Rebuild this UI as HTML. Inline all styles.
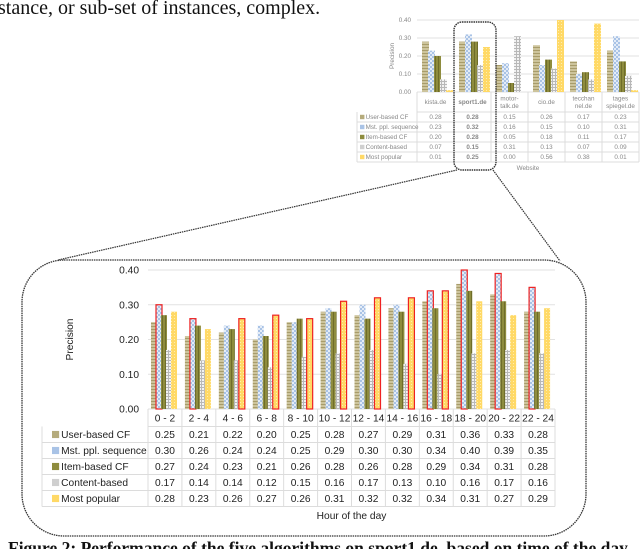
<!DOCTYPE html>
<html><head><meta charset="utf-8"><style>
body{margin:0;background:#fff;}
svg{display:block;}
text{font-family:"Liberation Sans",sans-serif;}
.serif{font-family:"Liberation Serif",serif;}
</style></head><body>
<svg id="s" width="640" height="549" viewBox="0 0 640 549">
<defs>
<pattern id="pUser" width="4" height="3" patternUnits="userSpaceOnUse"><rect width="4" height="3" fill="#cdc49c"/><rect y="2" width="4" height="1" fill="#a89c6a"/></pattern>
<pattern id="pMst" width="4" height="4" patternUnits="userSpaceOnUse"><rect width="4" height="4" fill="#e4ecf7"/><rect width="2" height="2" fill="#a9c3e6"/><rect x="2" y="2" width="2" height="2" fill="#a9c3e6"/></pattern>
<pattern id="pItem" width="3" height="3" patternUnits="userSpaceOnUse"><rect width="3" height="3" fill="#8e8c3e"/><rect width="1" height="3" fill="#6f6d2a"/></pattern>
<pattern id="pCont" width="3" height="3" patternUnits="userSpaceOnUse"><rect width="3" height="3" fill="#f2f2f2"/><rect width="1" height="3" fill="#b8b8b8"/><rect width="3" height="1" fill="#b8b8b8"/></pattern>
<pattern id="pPop" width="3" height="3" patternUnits="userSpaceOnUse"><rect width="3" height="3" fill="#ffd966"/><rect width="1" height="1" fill="#ffeeb0"/></pattern>
</defs>
<text class="serif" x="-2" y="14" font-size="20" fill="#111">stance, or sub-set of instances, complex.</text>
<g id="small"></g>
<g id="main"></g>
<rect x="454" y="22" width="42" height="148" rx="8" fill="none" stroke="#333" stroke-width="1.4" stroke-dasharray="1.5 0.8"/>
<line x1="457" y1="170" x2="58" y2="260" stroke="#333" stroke-width="1.2" stroke-dasharray="1.5 0.8"/>
<line x1="493" y1="170" x2="560" y2="261" stroke="#333" stroke-width="1.2" stroke-dasharray="1.5 0.8"/>
<rect x="22" y="260" width="564" height="276" rx="42" fill="none" stroke="#333" stroke-width="1.3" stroke-dasharray="1.5 0.8"/>
<text class="serif" x="8" y="554" font-size="17.5" font-weight="bold" fill="#111">Figure 2: Performance of the five algorithms on sport1.de, based on time of the day</text>
</svg>
<script>
const seriesNames=["User-based CF","Mst. ppl. sequence","Item-based CF","Content-based","Most popular"];
const hours=["0 - 2","2 - 4","4 - 6","6 - 8","8 - 10","10 - 12","12 - 14","14 - 16","16 - 18","18 - 20","20 - 22","22 - 24"];
const hUser=[0.25,0.21,0.22,0.20,0.25,0.28,0.27,0.29,0.31,0.36,0.33,0.28];
const hMst=[0.30,0.26,0.24,0.24,0.25,0.29,0.30,0.30,0.34,0.40,0.39,0.35];
const hItem=[0.27,0.24,0.23,0.21,0.26,0.28,0.26,0.28,0.29,0.34,0.31,0.28];
const hCont=[0.17,0.14,0.14,0.12,0.15,0.16,0.17,0.13,0.10,0.16,0.17,0.16];
const hPop=[0.28,0.23,0.26,0.27,0.26,0.31,0.32,0.32,0.34,0.31,0.27,0.29];
const yTicks=["0.00","0.10","0.20","0.30","0.40"];
const sites=["kista.de","sport1.de","motor-|talk.de","cio.de","tecchan|nel.de","tages|spiegel.de"];
const sUser=[0.28,0.28,0.15,0.26,0.17,0.23];
const sMst=[0.23,0.32,0.16,0.15,0.10,0.31];
const sItem=[0.20,0.28,0.05,0.18,0.11,0.17];
const sCont=[0.07,0.15,0.31,0.13,0.07,0.09];
const sPop=[0.01,0.25,0.00,0.56,0.38,0.01];

const NS="http://www.w3.org/2000/svg";
const fills=["url(#pUser)","url(#pMst)","url(#pItem)","url(#pCont)","url(#pPop)"];
const icon=["#b5ab7c","#a9c3e6","#8e8c3e","#cfcfcf","#ffd966"];
function mk(p,t,a){const e=document.createElementNS(NS,t);for(const k in a)e.setAttribute(k,a[k]);p.appendChild(e);return e;}
function txt(p,x,y,s,a){const e=mk(p,"text",Object.assign({x:x,y:y},a));e.textContent=s;return e;}

function chart(g,o){
  const hs=o.series, n=o.cats.length;
  const cw=(o.x1-o.x0)/n;
  const y=v=>o.yb-Math.min(v,0.4)/0.4*o.yh;
  const xc=i=>o.x0+i*cw;
  yTicks.forEach(t=>{
    const l=mk(g,"line",{x1:o.x0,x2:o.x1,y1:y(+t),y2:y(+t),stroke:"#e2e2e2","stroke-width":1});
    
    
    const tt=txt(g,o.x0-o.tickGap,y(+t)+o.fs*0.35,t,{"font-size":o.fs,fill:o.tc,"text-anchor":"end"});
    
    
  });
  const yt=txt(g,0,0,"Precision",{"font-size":o.fs,fill:o.tc,"text-anchor":"middle",transform:`translate(${o.ytx},${o.yb-o.yh/2}) rotate(-90)`});
  
  
  for(let i=0;i<n;i++){
    let mx=-1;
    if(o.red){hs.forEach(s=>{if(s[i]>mx)mx=s[i];});}
    hs.forEach((s,k)=>{
      const bx=xc(i)+o.boff+k*o.step;
      const r=mk(g,"rect",{x:bx,y:y(s[i]),width:o.bw,height:o.yb-y(s[i]),fill:fills[k]});
      if(o.red&&(k===1||k===4)&&s[i]===mx){r.setAttribute("stroke","#ee2222");r.setAttribute("stroke-width","1.2");}
      
      
    });
  }
  const tb=o.yb, rh=o.rh, hh=o.hh;
  const bc="#dcdcdc";
  for(let r=0;r<=5;r++){
    const l=mk(g,"line",{x1:r==0?o.x0:o.lx,x2:o.x1,y1:tb+hh+r*rh,y2:tb+hh+r*rh,stroke:bc});
    
    
  }
  for(let i=0;i<=n;i++){
    const l=mk(g,"line",{x1:xc(i),x2:xc(i),y1:tb,y2:tb+hh+5*rh,stroke:bc});
    
    
  }
  const l2=mk(g,"line",{x1:o.lx,x2:o.lx,y1:tb+hh,y2:tb+hh+5*rh,stroke:bc});
  
  
  o.cats.forEach((c,i)=>{
    const parts=c.split("|");
    parts.forEach((p,j)=>{
      const t=txt(g,xc(i)+cw/2,tb+hh/2+o.fs*0.35+(j-(parts.length-1)/2)*o.fs*1.15,p,{"font-size":o.fs,fill:o.tc,"text-anchor":"middle","font-weight":(o.bold===i?"bold":"normal")});
      
      
    });
  });
  seriesNames.forEach((nm,k)=>{
    const cy=tb+hh+k*rh+rh/2;
    const ic=mk(g,"rect",{x:o.lx+o.iconX,y:cy-o.fs*0.35,width:o.fs*0.7,height:o.fs*0.7,fill:icon[k]});
    
    
    const t=txt(g,o.lx+o.iconX+o.fs*0.9,cy+o.fs*0.35,nm,{"font-size":o.fs,fill:o.tc});
    
    
    hs[k].forEach((v,i)=>{
      const tv=txt(g,xc(i)+cw/2,cy+o.fs*0.35,v.toFixed(2),{"font-size":o.fs,fill:o.tc,"text-anchor":"middle","font-weight":(o.bold===i?"bold":"normal")});
      
      
    });
  });
  const xt=txt(g,(o.x0+o.x1)/2,o.xty,o.xtitle,{"font-size":o.fs,fill:o.tc,"text-anchor":"middle"});
  
  
}
chart(document.getElementById("main"),{cats:hours,series:[hUser,hMst,hItem,hCont,hPop],x0:148,x1:555,yb:409,yh:139,fs:10.2,tc:"#222",tickGap:9,ytx:73,boff:3,step:5,bw:6,red:true,rh:16,hh:17.5,lx:42,iconX:10,xty:519,xtitle:"Hour of the day",bold:-1});
chart(document.getElementById("small"),{cats:sites,series:[sUser,sMst,sItem,sCont,sPop],x0:417,x1:639,yb:92,yh:72,fs:6.3,tc:"#888",tickGap:6,ytx:394,boff:5,step:6,bw:7,red:false,rh:10,hh:20,lx:357,iconX:3,xty:170,xtitle:"Website",bold:1});
</script>
</body></html>
